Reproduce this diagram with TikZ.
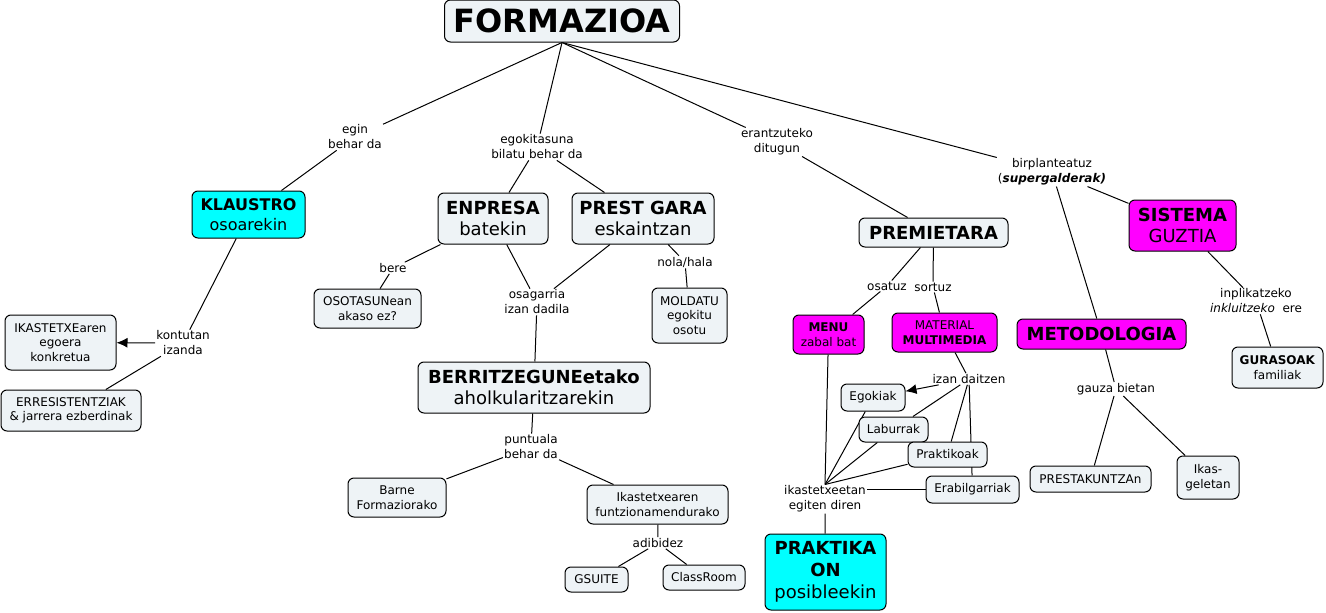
\documentclass[tikz,border=0pt]{standalone}
\usepackage{fontspec}
\setmainfont{DejaVu Sans}
\usetikzlibrary{arrows.meta}
\pgfdeclarelayer{bg}
\pgfsetlayers{bg,main}
\definecolor{boxfill}{RGB}{238,243,246}
\definecolor{cyanfill}{RGB}{0,255,255}
\definecolor{magfill}{RGB}{255,0,255}
\begin{document}
\begin{tikzpicture}[x=1pt,y=-1pt,
  cbox/.style={draw=black, line width=1pt, rounded corners=6pt, fill=boxfill, align=center, inner sep=2pt, font=\fontsize{12}{14.5}\selectfont},
  cy/.style={cbox, fill=cyanfill},
  mg/.style={cbox, fill=magfill},
  big/.style={font=\fontsize{18}{21}\selectfont},
  lab/.style={align=center, inner sep=1pt, font=\fontsize{12}{15}\selectfont},
  conn/.style={draw=black, line width=1pt},
  arr/.style={conn, -{Latex[length=11pt,width=10pt]}}
]
\useasboundingbox (0,0) rectangle (1326,613);

% concepts
\node[cbox, minimum width=235pt, minimum height=42pt, font=\fontsize{32}{36}\selectfont\bfseries] (F) at (562,21) {FORMAZIOA};
\node[cy, minimum width=113pt, minimum height=47pt, font=\fontsize{16}{20}\selectfont] (KL) at (248.5,214.5) {\textbf{KLAUSTRO}\\osoarekin};
\node[cbox, big, minimum width=110pt, minimum height=51pt] (EN) at (493,218.5) {\textbf{ENPRESA}\\batekin};
\node[cbox, big, minimum width=142pt, minimum height=51pt] (PG) at (643,218.5) {\textbf{PREST GARA}\\eskaintzan};
\node[cbox, big, minimum width=149pt, minimum height=29pt] (PR) at (933.5,232.5) {\textbf{PREMIETARA}};
\node[mg, big, minimum width=107pt, minimum height=51pt] (SI) at (1182.5,225.5) {\textbf{SISTEMA}\\GUZTIA};
\node[cbox, minimum width=107pt, minimum height=39pt] (OS) at (367.5,308.5) {OSOTASUNean\\akaso ez?};
\node[cbox, minimum width=75pt, minimum height=55pt] (MO) at (689.5,315.5) {MOLDATU\\egokitu\\osotu};
\node[cbox, minimum width=111pt, minimum height=55pt] (IK) at (60.5,342.5) {IKASTETXEaren\\egoera\\konkretua};
\node[cbox, minimum width=140pt, minimum height=41pt] (ER) at (71,410.5) {ERRESISTENTZIAK\\\& jarrera ezberdinak};
\node[cbox, big, minimum width=232pt, minimum height=51pt] (BE) at (534,387.5) {\textbf{BERRITZEGUNEetako}\\aholkularitzarekin};
\node[mg, minimum width=71pt, minimum height=39pt] (ME) at (828.5,334.5) {\textbf{MENU}\\zabal bat};
\node[mg, minimum width=105pt, minimum height=39pt] (MA) at (944.5,332.5) {MATERIAL\\\textbf{MULTIMEDIA}};
\node[mg, big, minimum width=169pt, minimum height=30pt] (MT) at (1101.5,334) {\textbf{METODOLOGIA}};
\node[cbox, minimum width=91pt, minimum height=41pt] (GU) at (1277.5,367.5) {\textbf{GURASOAK}\\familiak};
\node[cbox, minimum width=64pt, minimum height=27pt] (EG) at (873,397.5) {Egokiak};
\node[cbox, minimum width=69pt, minimum height=25pt] (LA) at (893.5,429.5) {Laburrak};
\node[cbox, minimum width=79pt, minimum height=25pt] (PK) at (947.5,454.5) {Praktikoak};
\node[cbox, minimum width=93pt, minimum height=27pt] (EB) at (972.5,489.5) {Erabilgarriak};
\node[cbox, minimum width=121pt, minimum height=26pt] (PS) at (1090.5,479) {PRESTAKUNTZAn};
\node[cbox, minimum width=62pt, minimum height=43pt] (IG) at (1208,477.5) {Ikas-\\geletan};
\node[cbox, minimum width=98pt, minimum height=39pt] (BA) at (397,497.5) {Barne\\Formaziorako};
\node[cbox, minimum width=141pt, minimum height=39pt] (IF) at (657.5,504.5) {Ikastetxearen\\funtzionamendurako};
\node[cbox, minimum width=63pt, minimum height=25pt] (GS) at (596.5,579.5) {GSUITE};
\node[cbox, minimum width=82pt, minimum height=25pt] (CR) at (704,577.5) {ClassRoom};
\node[cy, minimum width=121pt, minimum height=76pt, font=\fontsize{18}{22}\selectfont] (PO) at (825.5,572) {\textbf{PRAKTIKA}\\\textbf{ON}\\posibleekin};

% linking phrases
\node[lab] (L1) at (355,137) {egin\\behar da};
\node[lab] (L2) at (537,147) {egokitasuna\\bilatu behar da};
\node[lab] (L3) at (777,142) {erantzuteko\\ditugun};
\node[lab] (L4) at (1052,172) {birplanteatuz\\(\textbf{\textit{supergalderak)}}};
\node[lab] (L5) at (393,268) {bere};
\node[lab] (L6) at (537,302) {osagarria\\izan dadila};
\node[lab] (L7) at (685,262) {nola/hala};
\node[lab] (L8) at (183,343) {kontutan\\izanda};
\node[lab] (L9) at (887,286) {osatuz};
\node[lab] (L10) at (933,287) {sortuz};
\node[lab] (L11) at (969,379) {izan daitzen};
\node[lab] (L12) at (1256,301) {inplikatzeko\\\textit{inkluitzeko}~ ere};
\node[lab] (L13) at (1116,389) {gauza bietan};
\node[lab] (L14) at (531,447) {puntuala\\behar da};
\node[lab] (L15) at (658,543) {adibidez};
\node[lab] (L16) at (825,499) {ikastetxeetan\\egiten diren};

\begin{pgfonlayer}{bg}
\draw[conn] (F.south) -- (L1) -- (KL);
\draw[conn] (F.south) -- (L2);
\draw[conn] (L2) -- (EN);
\draw[conn] (L2) -- (PG);
\draw[conn] (F.south) -- (L3) -- (PR);
\draw[conn] (F.south) -- (L4);
\draw[conn] (L4) -- (SI);
\draw[conn] (L4) -- (MT);
\draw[conn] (KL) -- (L8);
\draw[arr] (L8) -- (IK);
\draw[conn] (L8) -- (ER);
\draw[conn] (EN) -- (L5) -- (OS);
\draw[conn] (EN) -- (L6);
\draw[conn] (PG) -- (L6);
\draw[conn] (L6) -- (BE);
\draw[conn] (PG) -- (L7) -- (MO);
\draw[conn] (BE) -- (L14);
\draw[conn] (L14) -- (BA);
\draw[conn] (L14) -- (IF);
\draw[conn] (IF) -- (L15);
\draw[conn] (L15) -- (GS);
\draw[conn] (L15) -- (CR);
\draw[conn] (PR) -- (L9) -- (ME);
\draw[conn] (PR) -- (L10) -- (MA);
\draw[conn] (MA) -- (L11);
\draw[arr] (L11) -- (EG);
\draw[conn] (L11) -- (LA);
\draw[conn] (L11) -- (PK);
\draw[conn] (L11) -- (EB);
\draw[conn] (ME) -- (L16.north);
\draw[conn] (EG) -- (L16.north);
\draw[conn] (LA) -- (L16.north);
\draw[conn] (PK) -- (L16.north);
\draw[conn] (EB.west) -- (L16.east |- EB.west);
\draw[conn] (L16) -- (PO);
\draw[conn] (SI) -- (L12) -- (GU);
\draw[conn] (MT) -- (L13);
\draw[conn] (L13) -- (PS);
\draw[conn] (L13) -- (IG);
\end{pgfonlayer}
\end{tikzpicture}
\end{document}
